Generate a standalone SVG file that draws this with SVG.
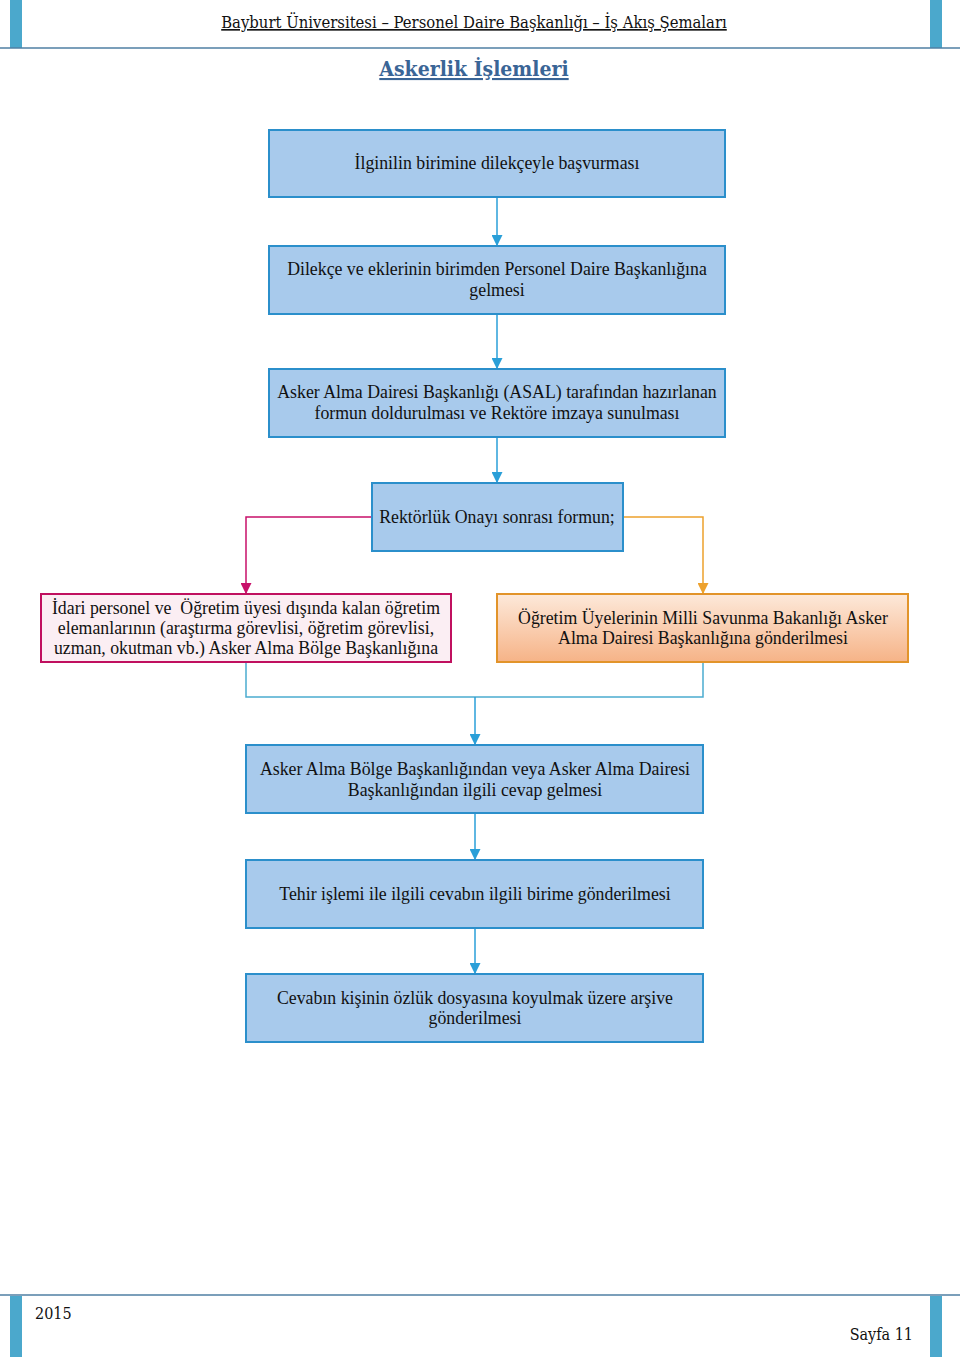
<svg xmlns="http://www.w3.org/2000/svg" width="960" height="1357" viewBox="0 0 960 1357">
<style>
.box{fill:#a8caec;stroke:#2b8fcb;stroke-width:2}
.t{font-family:"Liberation Serif","Times New Roman",serif;font-size:17.8px;fill:#111;text-anchor:middle}
.c{fill:none;stroke:#2a9fd8;stroke-width:1.5}
.hdr{font-family:"DejaVu Serif Condensed","Liberation Serif",serif;fill:#111}
</style>
<defs>
<marker id="ab" viewBox="0 0 10 10" refX="9" refY="5" markerWidth="11" markerHeight="11" markerUnits="userSpaceOnUse" orient="auto"><path d="M0,0 L10,5 L0,10 z" fill="#2a9fd8"/></marker>
<marker id="am" viewBox="0 0 10 10" refX="9" refY="5" markerWidth="11" markerHeight="11" markerUnits="userSpaceOnUse" orient="auto"><path d="M0,0 L10,5 L0,10 z" fill="#c8106a"/></marker>
<marker id="ao" viewBox="0 0 10 10" refX="9" refY="5" markerWidth="11" markerHeight="11" markerUnits="userSpaceOnUse" orient="auto"><path d="M0,0 L10,5 L0,10 z" fill="#eda12d"/></marker>
<linearGradient id="og" x1="0" y1="0" x2="0" y2="1"><stop offset="0" stop-color="#fde9da"/><stop offset="1" stop-color="#f6b387"/></linearGradient>
</defs>
<rect width="960" height="1357" fill="#fff"/>
<g id="header">
<rect x="10" y="0" width="12" height="48" fill="#4ba8cc"/>
<rect x="930" y="0" width="12" height="48" fill="#4ba8cc"/>
<line x1="0" y1="48" x2="960" y2="48" stroke="#4f7fa3" stroke-width="1.5"/>
<text class="hdr" x="474" y="28" font-size="16.5" text-anchor="middle" text-decoration="underline">Bayburt Üniversitesi – Personel Daire Başkanlığı – İş Akış Şemaları</text>
<text x="474" y="76" font-family="DejaVu Serif Condensed,Liberation Serif,serif" font-size="21" font-weight="bold" fill="#3a6596" text-anchor="middle" text-decoration="underline">Askerlik İşlemleri</text>
</g>
<g id="footer">
<line x1="0" y1="1295" x2="960" y2="1295" stroke="#4f7fa3" stroke-width="1.5"/>
<rect x="10" y="1296" width="12" height="61" fill="#4ba8cc"/>
<rect x="930" y="1296" width="12" height="61" fill="#4ba8cc"/>
<text class="hdr" x="35" y="1319" font-size="16">2015</text>
<text class="hdr" x="913" y="1340" font-size="16" text-anchor="end">Sayfa 11</text>
</g>
<g id="connectors">
<line class="c" x1="497" y1="198" x2="497" y2="245" marker-end="url(#ab)"/>
<line class="c" x1="497" y1="315" x2="497" y2="368" marker-end="url(#ab)"/>
<line class="c" x1="497" y1="438" x2="497" y2="482" marker-end="url(#ab)"/>
<polyline points="372,517 246,517 246,593" fill="none" stroke="#c8106a" stroke-width="1.5" marker-end="url(#am)"/>
<polyline points="623,517 703,517 703,593" fill="none" stroke="#eda12d" stroke-width="1.5" marker-end="url(#ao)"/>
<polyline points="246,663 246,697 703,697 703,663" fill="none" stroke="#4bacd0" stroke-width="1.5"/>
<line class="c" x1="475" y1="697" x2="475" y2="744" marker-end="url(#ab)"/>
<line class="c" x1="475" y1="814" x2="475" y2="859" marker-end="url(#ab)"/>
<line class="c" x1="475" y1="929" x2="475" y2="973" marker-end="url(#ab)"/>
</g>
<g id="n1"><rect class="box" x="269" y="130" width="456" height="67"/><text class="t" x="497" y="169">İlginilin birimine dilekçeyle başvurması</text></g>
<g id="n2"><rect class="box" x="269" y="246" width="456" height="68"/><text class="t" x="497" y="275">Dilekçe ve eklerinin birimden Personel Daire Başkanlığına</text><text class="t" x="497" y="296">gelmesi</text></g>
<g id="n3"><rect class="box" x="269" y="369" width="456" height="68"/><text class="t" x="497" y="398">Asker Alma Dairesi Başkanlığı (ASAL) tarafından hazırlanan</text><text class="t" x="497" y="419">formun doldurulması ve Rektöre imzaya sunulması</text></g>
<g id="n4"><rect class="box" x="372" y="483" width="251" height="68"/><text class="t" x="497" y="523">Rektörlük Onayı sonrası formun;</text></g>
<g id="n5"><rect x="41" y="594" width="410" height="68" fill="#fbeef3" stroke="#c0105f" stroke-width="2"/><text class="t" x="246" y="614" style="white-space:pre">İdari personel ve  Öğretim üyesi dışında kalan öğretim</text><text class="t" x="246" y="634">elemanlarının (araştırma görevlisi, öğretim görevlisi,</text><text class="t" x="246" y="654">uzman, okutman vb.) Asker Alma Bölge Başkanlığına</text></g>
<g id="n6"><rect x="497" y="594" width="411" height="68" fill="url(#og)" stroke="#e2942a" stroke-width="2"/><text class="t" x="703" y="624">Öğretim Üyelerinin Milli Savunma Bakanlığı Asker</text><text class="t" x="703" y="644">Alma Dairesi Başkanlığına gönderilmesi</text></g>
<g id="n7"><rect class="box" x="246" y="745" width="457" height="68"/><text class="t" x="475" y="775">Asker Alma Bölge Başkanlığından veya Asker Alma Dairesi</text><text class="t" x="475" y="796">Başkanlığından ilgili cevap gelmesi</text></g>
<g id="n8"><rect class="box" x="246" y="860" width="457" height="68"/><text class="t" x="475" y="900">Tehir işlemi ile ilgili cevabın ilgili birime gönderilmesi</text></g>
<g id="n9"><rect class="box" x="246" y="974" width="457" height="68"/><text class="t" x="475" y="1004">Cevabın kişinin özlük dosyasına koyulmak üzere arşive</text><text class="t" x="475" y="1024">gönderilmesi</text></g>
</svg>
